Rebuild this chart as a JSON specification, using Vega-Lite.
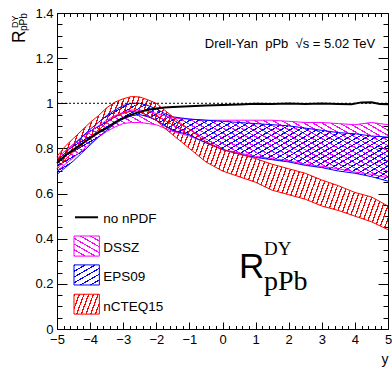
{
  "$schema": "https://vega.github.io/schema/vega-lite/v6.json",
  "width": 331,
  "height": 316,
  "autosize": {"type": "none"},
  "padding": {"left": 57, "top": 13, "right": 4, "bottom": 40},
  "background": "white",
  "data": {"values": [{}]},
  "config": {
    "view": {"stroke": "black", "strokeWidth": 1},
    "font": "Liberation Sans",
    "axis": {"grid": false, "domain": false, "tickColor": "black", "labelColor": "black", "labelFont": "Liberation Sans", "labelFontSize": 13, "zindex": 1, "labelOverlap": false, "labelFlush": false, "tickWidth": 1, "titleFont": "Liberation Sans", "titleFontWeight": "normal", "titleColor": "black", "format": "~g"}
  },
  "datasets": {
    "bands": [
      {"model": "DSSZ", "x": -5, "lo": 0.70, "hi": 0.755},
      {"model": "DSSZ", "x": -4.75, "lo": 0.73, "hi": 0.79},
      {"model": "DSSZ", "x": -4.5, "lo": 0.76, "hi": 0.82},
      {"model": "DSSZ", "x": -4.25, "lo": 0.79, "hi": 0.85},
      {"model": "DSSZ", "x": -4, "lo": 0.82, "hi": 0.875},
      {"model": "DSSZ", "x": -3.75, "lo": 0.85, "hi": 0.9},
      {"model": "DSSZ", "x": -3.5, "lo": 0.875, "hi": 0.925},
      {"model": "DSSZ", "x": -3.25, "lo": 0.895, "hi": 0.945},
      {"model": "DSSZ", "x": -3, "lo": 0.91, "hi": 0.96},
      {"model": "DSSZ", "x": -2.75, "lo": 0.915, "hi": 0.97},
      {"model": "DSSZ", "x": -2.5, "lo": 0.915, "hi": 0.97},
      {"model": "DSSZ", "x": -2.25, "lo": 0.91, "hi": 0.965},
      {"model": "DSSZ", "x": -2, "lo": 0.905, "hi": 0.955},
      {"model": "DSSZ", "x": -1.75, "lo": 0.89, "hi": 0.945},
      {"model": "DSSZ", "x": -1.5, "lo": 0.875, "hi": 0.935},
      {"model": "DSSZ", "x": -1.25, "lo": 0.865, "hi": 0.932},
      {"model": "DSSZ", "x": -1, "lo": 0.855, "hi": 0.93},
      {"model": "DSSZ", "x": -0.5, "lo": 0.825, "hi": 0.925},
      {"model": "DSSZ", "x": 0, "lo": 0.795, "hi": 0.925},
      {"model": "DSSZ", "x": 0.5, "lo": 0.78, "hi": 0.925},
      {"model": "DSSZ", "x": 1, "lo": 0.765, "hi": 0.925},
      {"model": "DSSZ", "x": 1.5, "lo": 0.755, "hi": 0.925},
      {"model": "DSSZ", "x": 2, "lo": 0.745, "hi": 0.92},
      {"model": "DSSZ", "x": 2.5, "lo": 0.73, "hi": 0.915},
      {"model": "DSSZ", "x": 3, "lo": 0.72, "hi": 0.915},
      {"model": "DSSZ", "x": 3.5, "lo": 0.71, "hi": 0.91},
      {"model": "DSSZ", "x": 4, "lo": 0.695, "hi": 0.905},
      {"model": "DSSZ", "x": 4.5, "lo": 0.685, "hi": 0.915},
      {"model": "DSSZ", "x": 5, "lo": 0.67, "hi": 0.905},
      {"model": "EPS09", "x": -5, "lo": 0.685, "hi": 0.745},
      {"model": "EPS09", "x": -4.75, "lo": 0.715, "hi": 0.78},
      {"model": "EPS09", "x": -4.5, "lo": 0.745, "hi": 0.815},
      {"model": "EPS09", "x": -4.25, "lo": 0.78, "hi": 0.85},
      {"model": "EPS09", "x": -4, "lo": 0.815, "hi": 0.885},
      {"model": "EPS09", "x": -3.75, "lo": 0.85, "hi": 0.915},
      {"model": "EPS09", "x": -3.5, "lo": 0.88, "hi": 0.945},
      {"model": "EPS09", "x": -3.25, "lo": 0.91, "hi": 0.97},
      {"model": "EPS09", "x": -3, "lo": 0.93, "hi": 0.99},
      {"model": "EPS09", "x": -2.75, "lo": 0.945, "hi": 1.0},
      {"model": "EPS09", "x": -2.5, "lo": 0.95, "hi": 1.0},
      {"model": "EPS09", "x": -2.25, "lo": 0.94, "hi": 0.99},
      {"model": "EPS09", "x": -2, "lo": 0.925, "hi": 0.975},
      {"model": "EPS09", "x": -1.75, "lo": 0.9, "hi": 0.955},
      {"model": "EPS09", "x": -1.5, "lo": 0.88, "hi": 0.94},
      {"model": "EPS09", "x": -1.25, "lo": 0.87, "hi": 0.935},
      {"model": "EPS09", "x": -1, "lo": 0.86, "hi": 0.93},
      {"model": "EPS09", "x": -0.5, "lo": 0.825, "hi": 0.925},
      {"model": "EPS09", "x": 0, "lo": 0.795, "hi": 0.92},
      {"model": "EPS09", "x": 0.5, "lo": 0.775, "hi": 0.915},
      {"model": "EPS09", "x": 1, "lo": 0.76, "hi": 0.91},
      {"model": "EPS09", "x": 1.5, "lo": 0.75, "hi": 0.905},
      {"model": "EPS09", "x": 2, "lo": 0.74, "hi": 0.9},
      {"model": "EPS09", "x": 2.5, "lo": 0.725, "hi": 0.89},
      {"model": "EPS09", "x": 3, "lo": 0.715, "hi": 0.88},
      {"model": "EPS09", "x": 3.5, "lo": 0.7, "hi": 0.87},
      {"model": "EPS09", "x": 4, "lo": 0.69, "hi": 0.865},
      {"model": "EPS09", "x": 4.5, "lo": 0.675, "hi": 0.855},
      {"model": "EPS09", "x": 5, "lo": 0.655, "hi": 0.85},
      {"model": "nCTEQ15", "x": -5, "lo": 0.71, "hi": 0.765},
      {"model": "nCTEQ15", "x": -4.75, "lo": 0.75, "hi": 0.81},
      {"model": "nCTEQ15", "x": -4.5, "lo": 0.785, "hi": 0.845},
      {"model": "nCTEQ15", "x": -4.25, "lo": 0.815, "hi": 0.88},
      {"model": "nCTEQ15", "x": -4, "lo": 0.85, "hi": 0.915},
      {"model": "nCTEQ15", "x": -3.75, "lo": 0.88, "hi": 0.945},
      {"model": "nCTEQ15", "x": -3.5, "lo": 0.915, "hi": 0.98},
      {"model": "nCTEQ15", "x": -3.25, "lo": 0.94, "hi": 1.005},
      {"model": "nCTEQ15", "x": -3, "lo": 0.955, "hi": 1.02},
      {"model": "nCTEQ15", "x": -2.75, "lo": 0.965, "hi": 1.03},
      {"model": "nCTEQ15", "x": -2.5, "lo": 0.96, "hi": 1.028},
      {"model": "nCTEQ15", "x": -2.25, "lo": 0.945, "hi": 1.015},
      {"model": "nCTEQ15", "x": -2, "lo": 0.925, "hi": 1.0},
      {"model": "nCTEQ15", "x": -1.75, "lo": 0.89, "hi": 0.97},
      {"model": "nCTEQ15", "x": -1.5, "lo": 0.86, "hi": 0.94},
      {"model": "nCTEQ15", "x": -1.25, "lo": 0.83, "hi": 0.91},
      {"model": "nCTEQ15", "x": -1, "lo": 0.8, "hi": 0.885},
      {"model": "nCTEQ15", "x": -0.5, "lo": 0.74, "hi": 0.83},
      {"model": "nCTEQ15", "x": 0, "lo": 0.7, "hi": 0.795},
      {"model": "nCTEQ15", "x": 0.5, "lo": 0.675, "hi": 0.775},
      {"model": "nCTEQ15", "x": 1, "lo": 0.65, "hi": 0.755},
      {"model": "nCTEQ15", "x": 1.5, "lo": 0.615, "hi": 0.73},
      {"model": "nCTEQ15", "x": 2, "lo": 0.595, "hi": 0.71},
      {"model": "nCTEQ15", "x": 2.5, "lo": 0.575, "hi": 0.69},
      {"model": "nCTEQ15", "x": 3, "lo": 0.545, "hi": 0.66},
      {"model": "nCTEQ15", "x": 3.5, "lo": 0.525, "hi": 0.635},
      {"model": "nCTEQ15", "x": 4, "lo": 0.5, "hi": 0.605},
      {"model": "nCTEQ15", "x": 4.5, "lo": 0.475, "hi": 0.585},
      {"model": "nCTEQ15", "x": 5, "lo": 0.44, "hi": 0.545}
    ],
    "nopdf": [
      {"x": -5, "r": 0.735}, {"x": -4.75, "r": 0.77}, {"x": -4.5, "r": 0.795}, {"x": -4.25, "r": 0.82},
      {"x": -4, "r": 0.845}, {"x": -3.75, "r": 0.87}, {"x": -3.5, "r": 0.89}, {"x": -3.25, "r": 0.915},
      {"x": -3, "r": 0.935}, {"x": -2.75, "r": 0.95}, {"x": -2.5, "r": 0.962}, {"x": -2.25, "r": 0.971},
      {"x": -2, "r": 0.977}, {"x": -1.75, "r": 0.981}, {"x": -1.5, "r": 0.984}, {"x": -1, "r": 0.987},
      {"x": -0.5, "r": 0.99}, {"x": 0, "r": 0.992}, {"x": 0.5, "r": 0.995}, {"x": 1, "r": 0.998},
      {"x": 1.5, "r": 0.997}, {"x": 2, "r": 0.999}, {"x": 2.5, "r": 0.997}, {"x": 3, "r": 0.999},
      {"x": 3.5, "r": 0.997}, {"x": 3.9, "r": 0.996}, {"x": 4.2, "r": 1.004}, {"x": 4.5, "r": 1.005},
      {"x": 4.75, "r": 0.997}, {"x": 5, "r": 0.996}
    ]
  },
  "resolve": {"axis": {"x": "independent", "y": "independent"}},
  "layer": [
    {
      "data": {"name": "bands"},
      "transform": [{"filter": "datum.model === 'DSSZ'"}],
      "mark": {"type": "area", "fill": {"gradient": "linear", "x1": 0, "y1": 1, "x2": 1.203, "y2": 0.574, "stops": [
        {"offset": 0, "color": "#ff00ff"}, {"offset": 0.005, "color": "#ff00ff"}, {"offset": 0.005, "color": "rgba(255,0,255,0)"}, {"offset": 0.02, "color": "rgba(255,0,255,0)"},
        {"offset": 0.02, "color": "#ff00ff"}, {"offset": 0.025, "color": "#ff00ff"}, {"offset": 0.025, "color": "rgba(255,0,255,0)"}, {"offset": 0.04, "color": "rgba(255,0,255,0)"},
        {"offset": 0.04, "color": "#ff00ff"}, {"offset": 0.045, "color": "#ff00ff"}, {"offset": 0.045, "color": "rgba(255,0,255,0)"}, {"offset": 0.06, "color": "rgba(255,0,255,0)"},
        {"offset": 0.06, "color": "#ff00ff"}, {"offset": 0.065, "color": "#ff00ff"}, {"offset": 0.065, "color": "rgba(255,0,255,0)"}, {"offset": 0.08, "color": "rgba(255,0,255,0)"},
        {"offset": 0.08, "color": "#ff00ff"}, {"offset": 0.085, "color": "#ff00ff"}, {"offset": 0.085, "color": "rgba(255,0,255,0)"}, {"offset": 0.10, "color": "rgba(255,0,255,0)"},
        {"offset": 0.10, "color": "#ff00ff"}, {"offset": 0.105, "color": "#ff00ff"}, {"offset": 0.105, "color": "rgba(255,0,255,0)"}, {"offset": 0.12, "color": "rgba(255,0,255,0)"},
        {"offset": 0.12, "color": "#ff00ff"}, {"offset": 0.125, "color": "#ff00ff"}, {"offset": 0.125, "color": "rgba(255,0,255,0)"}, {"offset": 0.14, "color": "rgba(255,0,255,0)"},
        {"offset": 0.14, "color": "#ff00ff"}, {"offset": 0.145, "color": "#ff00ff"}, {"offset": 0.145, "color": "rgba(255,0,255,0)"}, {"offset": 0.16, "color": "rgba(255,0,255,0)"},
        {"offset": 0.16, "color": "#ff00ff"}, {"offset": 0.165, "color": "#ff00ff"}, {"offset": 0.165, "color": "rgba(255,0,255,0)"}, {"offset": 0.18, "color": "rgba(255,0,255,0)"},
        {"offset": 0.18, "color": "#ff00ff"}, {"offset": 0.185, "color": "#ff00ff"}, {"offset": 0.185, "color": "rgba(255,0,255,0)"}, {"offset": 0.20, "color": "rgba(255,0,255,0)"},
        {"offset": 0.20, "color": "#ff00ff"}, {"offset": 0.205, "color": "#ff00ff"}, {"offset": 0.205, "color": "rgba(255,0,255,0)"}, {"offset": 0.22, "color": "rgba(255,0,255,0)"},
        {"offset": 0.22, "color": "#ff00ff"}, {"offset": 0.225, "color": "#ff00ff"}, {"offset": 0.225, "color": "rgba(255,0,255,0)"}, {"offset": 0.24, "color": "rgba(255,0,255,0)"},
        {"offset": 0.24, "color": "#ff00ff"}, {"offset": 0.245, "color": "#ff00ff"}, {"offset": 0.245, "color": "rgba(255,0,255,0)"}, {"offset": 0.26, "color": "rgba(255,0,255,0)"},
        {"offset": 0.26, "color": "#ff00ff"}, {"offset": 0.265, "color": "#ff00ff"}, {"offset": 0.265, "color": "rgba(255,0,255,0)"}, {"offset": 0.28, "color": "rgba(255,0,255,0)"},
        {"offset": 0.28, "color": "#ff00ff"}, {"offset": 0.285, "color": "#ff00ff"}, {"offset": 0.285, "color": "rgba(255,0,255,0)"}, {"offset": 0.30, "color": "rgba(255,0,255,0)"},
        {"offset": 0.30, "color": "#ff00ff"}, {"offset": 0.305, "color": "#ff00ff"}, {"offset": 0.305, "color": "rgba(255,0,255,0)"}, {"offset": 0.32, "color": "rgba(255,0,255,0)"},
        {"offset": 0.32, "color": "#ff00ff"}, {"offset": 0.325, "color": "#ff00ff"}, {"offset": 0.325, "color": "rgba(255,0,255,0)"}, {"offset": 0.34, "color": "rgba(255,0,255,0)"},
        {"offset": 0.34, "color": "#ff00ff"}, {"offset": 0.345, "color": "#ff00ff"}, {"offset": 0.345, "color": "rgba(255,0,255,0)"}, {"offset": 0.36, "color": "rgba(255,0,255,0)"},
        {"offset": 0.36, "color": "#ff00ff"}, {"offset": 0.365, "color": "#ff00ff"}, {"offset": 0.365, "color": "rgba(255,0,255,0)"}, {"offset": 0.38, "color": "rgba(255,0,255,0)"},
        {"offset": 0.38, "color": "#ff00ff"}, {"offset": 0.385, "color": "#ff00ff"}, {"offset": 0.385, "color": "rgba(255,0,255,0)"}, {"offset": 0.40, "color": "rgba(255,0,255,0)"},
        {"offset": 0.40, "color": "#ff00ff"}, {"offset": 0.405, "color": "#ff00ff"}, {"offset": 0.405, "color": "rgba(255,0,255,0)"}, {"offset": 0.42, "color": "rgba(255,0,255,0)"},
        {"offset": 0.42, "color": "#ff00ff"}, {"offset": 0.425, "color": "#ff00ff"}, {"offset": 0.425, "color": "rgba(255,0,255,0)"}, {"offset": 0.44, "color": "rgba(255,0,255,0)"},
        {"offset": 0.44, "color": "#ff00ff"}, {"offset": 0.445, "color": "#ff00ff"}, {"offset": 0.445, "color": "rgba(255,0,255,0)"}, {"offset": 0.46, "color": "rgba(255,0,255,0)"},
        {"offset": 0.46, "color": "#ff00ff"}, {"offset": 0.465, "color": "#ff00ff"}, {"offset": 0.465, "color": "rgba(255,0,255,0)"}, {"offset": 0.48, "color": "rgba(255,0,255,0)"},
        {"offset": 0.48, "color": "#ff00ff"}, {"offset": 0.485, "color": "#ff00ff"}, {"offset": 0.485, "color": "rgba(255,0,255,0)"}, {"offset": 0.50, "color": "rgba(255,0,255,0)"},
        {"offset": 0.50, "color": "#ff00ff"}, {"offset": 0.505, "color": "#ff00ff"}, {"offset": 0.505, "color": "rgba(255,0,255,0)"}, {"offset": 0.52, "color": "rgba(255,0,255,0)"},
        {"offset": 0.52, "color": "#ff00ff"}, {"offset": 0.525, "color": "#ff00ff"}, {"offset": 0.525, "color": "rgba(255,0,255,0)"}, {"offset": 0.54, "color": "rgba(255,0,255,0)"},
        {"offset": 0.54, "color": "#ff00ff"}, {"offset": 0.545, "color": "#ff00ff"}, {"offset": 0.545, "color": "rgba(255,0,255,0)"}, {"offset": 0.56, "color": "rgba(255,0,255,0)"},
        {"offset": 0.56, "color": "#ff00ff"}, {"offset": 0.565, "color": "#ff00ff"}, {"offset": 0.565, "color": "rgba(255,0,255,0)"}, {"offset": 0.58, "color": "rgba(255,0,255,0)"},
        {"offset": 0.58, "color": "#ff00ff"}, {"offset": 0.585, "color": "#ff00ff"}, {"offset": 0.585, "color": "rgba(255,0,255,0)"}, {"offset": 0.60, "color": "rgba(255,0,255,0)"},
        {"offset": 0.60, "color": "#ff00ff"}, {"offset": 0.605, "color": "#ff00ff"}, {"offset": 0.605, "color": "rgba(255,0,255,0)"}, {"offset": 0.62, "color": "rgba(255,0,255,0)"},
        {"offset": 0.62, "color": "#ff00ff"}, {"offset": 0.625, "color": "#ff00ff"}, {"offset": 0.625, "color": "rgba(255,0,255,0)"}, {"offset": 0.64, "color": "rgba(255,0,255,0)"},
        {"offset": 0.64, "color": "#ff00ff"}, {"offset": 0.645, "color": "#ff00ff"}, {"offset": 0.645, "color": "rgba(255,0,255,0)"}, {"offset": 0.66, "color": "rgba(255,0,255,0)"},
        {"offset": 0.66, "color": "#ff00ff"}, {"offset": 0.665, "color": "#ff00ff"}, {"offset": 0.665, "color": "rgba(255,0,255,0)"}, {"offset": 0.68, "color": "rgba(255,0,255,0)"},
        {"offset": 0.68, "color": "#ff00ff"}, {"offset": 0.685, "color": "#ff00ff"}, {"offset": 0.685, "color": "rgba(255,0,255,0)"}, {"offset": 0.70, "color": "rgba(255,0,255,0)"},
        {"offset": 0.70, "color": "#ff00ff"}, {"offset": 0.705, "color": "#ff00ff"}, {"offset": 0.705, "color": "rgba(255,0,255,0)"}, {"offset": 0.72, "color": "rgba(255,0,255,0)"},
        {"offset": 0.72, "color": "#ff00ff"}, {"offset": 0.725, "color": "#ff00ff"}, {"offset": 0.725, "color": "rgba(255,0,255,0)"}, {"offset": 0.74, "color": "rgba(255,0,255,0)"},
        {"offset": 0.74, "color": "#ff00ff"}, {"offset": 0.745, "color": "#ff00ff"}, {"offset": 0.745, "color": "rgba(255,0,255,0)"}, {"offset": 0.76, "color": "rgba(255,0,255,0)"},
        {"offset": 0.76, "color": "#ff00ff"}, {"offset": 0.765, "color": "#ff00ff"}, {"offset": 0.765, "color": "rgba(255,0,255,0)"}, {"offset": 0.78, "color": "rgba(255,0,255,0)"},
        {"offset": 0.78, "color": "#ff00ff"}, {"offset": 0.785, "color": "#ff00ff"}, {"offset": 0.785, "color": "rgba(255,0,255,0)"}, {"offset": 0.80, "color": "rgba(255,0,255,0)"},
        {"offset": 0.80, "color": "#ff00ff"}, {"offset": 0.805, "color": "#ff00ff"}, {"offset": 0.805, "color": "rgba(255,0,255,0)"}, {"offset": 0.82, "color": "rgba(255,0,255,0)"},
        {"offset": 0.82, "color": "#ff00ff"}, {"offset": 0.825, "color": "#ff00ff"}, {"offset": 0.825, "color": "rgba(255,0,255,0)"}, {"offset": 0.84, "color": "rgba(255,0,255,0)"},
        {"offset": 0.84, "color": "#ff00ff"}, {"offset": 0.845, "color": "#ff00ff"}, {"offset": 0.845, "color": "rgba(255,0,255,0)"}, {"offset": 0.86, "color": "rgba(255,0,255,0)"},
        {"offset": 0.86, "color": "#ff00ff"}, {"offset": 0.865, "color": "#ff00ff"}, {"offset": 0.865, "color": "rgba(255,0,255,0)"}, {"offset": 0.88, "color": "rgba(255,0,255,0)"},
        {"offset": 0.88, "color": "#ff00ff"}, {"offset": 0.885, "color": "#ff00ff"}, {"offset": 0.885, "color": "rgba(255,0,255,0)"}, {"offset": 0.90, "color": "rgba(255,0,255,0)"},
        {"offset": 0.90, "color": "#ff00ff"}, {"offset": 0.905, "color": "#ff00ff"}, {"offset": 0.905, "color": "rgba(255,0,255,0)"}, {"offset": 0.92, "color": "rgba(255,0,255,0)"},
        {"offset": 0.92, "color": "#ff00ff"}, {"offset": 0.925, "color": "#ff00ff"}, {"offset": 0.925, "color": "rgba(255,0,255,0)"}, {"offset": 0.94, "color": "rgba(255,0,255,0)"},
        {"offset": 0.94, "color": "#ff00ff"}, {"offset": 0.945, "color": "#ff00ff"}, {"offset": 0.945, "color": "rgba(255,0,255,0)"}, {"offset": 0.96, "color": "rgba(255,0,255,0)"},
        {"offset": 0.96, "color": "#ff00ff"}, {"offset": 0.965, "color": "#ff00ff"}, {"offset": 0.965, "color": "rgba(255,0,255,0)"}, {"offset": 0.98, "color": "rgba(255,0,255,0)"},
        {"offset": 0.98, "color": "#ff00ff"}, {"offset": 0.985, "color": "#ff00ff"}, {"offset": 0.985, "color": "rgba(255,0,255,0)"}, {"offset": 1, "color": "rgba(255,0,255,0)"}
      ]}},
      "encoding": {
        "x": {"field": "x", "type": "quantitative", "scale": {"domain": [-5, 5], "nice": false, "zero": false},
          "axis": {"orient": "bottom", "title": "y", "titleFontSize": 14, "titleX": 331, "titleY": 41, "titleAlign": "right", "titleBaseline": "alphabetic", "titleAnchor": null,
            "values": [-5,-4,-3,-2,-1,0,1,2,3,4,5], "tickSize": 7, "offset": -7, "labelPadding": 4}},
        "y": {"field": "lo", "type": "quantitative", "scale": {"domain": [0, 1.4], "nice": false, "zero": false},
          "axis": {"orient": "left", "title": null,
            "values": [0,0.2,0.4,0.6,0.8,1,1.2,1.4], "tickSize": 10, "offset": -10, "labelPadding": 4}},
        "y2": {"field": "hi"}
      }
    },
    {
      "data": {"name": "bands"},
      "transform": [{"filter": "datum.model === 'EPS09'"}],
      "mark": {"type": "area", "fill": {"gradient": "linear", "x1": 0, "y1": 0, "x2": 1.207, "y2": 0.492, "stops": [
        {"offset": 0, "color": "#0000ff"}, {"offset": 0.0047, "color": "#0000ff"}, {"offset": 0.0047, "color": "rgba(0,0,255,0)"}, {"offset": 0.0192, "color": "rgba(0,0,255,0)"},
        {"offset": 0.0192, "color": "#0000ff"}, {"offset": 0.0239, "color": "#0000ff"}, {"offset": 0.0239, "color": "rgba(0,0,255,0)"}, {"offset": 0.0385, "color": "rgba(0,0,255,0)"},
        {"offset": 0.0385, "color": "#0000ff"}, {"offset": 0.0432, "color": "#0000ff"}, {"offset": 0.0432, "color": "rgba(0,0,255,0)"}, {"offset": 0.0577, "color": "rgba(0,0,255,0)"},
        {"offset": 0.0577, "color": "#0000ff"}, {"offset": 0.0624, "color": "#0000ff"}, {"offset": 0.0624, "color": "rgba(0,0,255,0)"}, {"offset": 0.0769, "color": "rgba(0,0,255,0)"},
        {"offset": 0.0769, "color": "#0000ff"}, {"offset": 0.0816, "color": "#0000ff"}, {"offset": 0.0816, "color": "rgba(0,0,255,0)"}, {"offset": 0.0962, "color": "rgba(0,0,255,0)"},
        {"offset": 0.0962, "color": "#0000ff"}, {"offset": 0.1009, "color": "#0000ff"}, {"offset": 0.1009, "color": "rgba(0,0,255,0)"}, {"offset": 0.1154, "color": "rgba(0,0,255,0)"},
        {"offset": 0.1154, "color": "#0000ff"}, {"offset": 0.1201, "color": "#0000ff"}, {"offset": 0.1201, "color": "rgba(0,0,255,0)"}, {"offset": 0.1346, "color": "rgba(0,0,255,0)"},
        {"offset": 0.1346, "color": "#0000ff"}, {"offset": 0.1393, "color": "#0000ff"}, {"offset": 0.1393, "color": "rgba(0,0,255,0)"}, {"offset": 0.1538, "color": "rgba(0,0,255,0)"},
        {"offset": 0.1538, "color": "#0000ff"}, {"offset": 0.1585, "color": "#0000ff"}, {"offset": 0.1585, "color": "rgba(0,0,255,0)"}, {"offset": 0.1731, "color": "rgba(0,0,255,0)"},
        {"offset": 0.1731, "color": "#0000ff"}, {"offset": 0.1778, "color": "#0000ff"}, {"offset": 0.1778, "color": "rgba(0,0,255,0)"}, {"offset": 0.1923, "color": "rgba(0,0,255,0)"},
        {"offset": 0.1923, "color": "#0000ff"}, {"offset": 0.1970, "color": "#0000ff"}, {"offset": 0.1970, "color": "rgba(0,0,255,0)"}, {"offset": 0.2115, "color": "rgba(0,0,255,0)"},
        {"offset": 0.2115, "color": "#0000ff"}, {"offset": 0.2162, "color": "#0000ff"}, {"offset": 0.2162, "color": "rgba(0,0,255,0)"}, {"offset": 0.2308, "color": "rgba(0,0,255,0)"},
        {"offset": 0.2308, "color": "#0000ff"}, {"offset": 0.2355, "color": "#0000ff"}, {"offset": 0.2355, "color": "rgba(0,0,255,0)"}, {"offset": 0.2500, "color": "rgba(0,0,255,0)"},
        {"offset": 0.2500, "color": "#0000ff"}, {"offset": 0.2547, "color": "#0000ff"}, {"offset": 0.2547, "color": "rgba(0,0,255,0)"}, {"offset": 0.2692, "color": "rgba(0,0,255,0)"},
        {"offset": 0.2692, "color": "#0000ff"}, {"offset": 0.2739, "color": "#0000ff"}, {"offset": 0.2739, "color": "rgba(0,0,255,0)"}, {"offset": 0.2885, "color": "rgba(0,0,255,0)"},
        {"offset": 0.2885, "color": "#0000ff"}, {"offset": 0.2932, "color": "#0000ff"}, {"offset": 0.2932, "color": "rgba(0,0,255,0)"}, {"offset": 0.3077, "color": "rgba(0,0,255,0)"},
        {"offset": 0.3077, "color": "#0000ff"}, {"offset": 0.3124, "color": "#0000ff"}, {"offset": 0.3124, "color": "rgba(0,0,255,0)"}, {"offset": 0.3269, "color": "rgba(0,0,255,0)"},
        {"offset": 0.3269, "color": "#0000ff"}, {"offset": 0.3316, "color": "#0000ff"}, {"offset": 0.3316, "color": "rgba(0,0,255,0)"}, {"offset": 0.3462, "color": "rgba(0,0,255,0)"},
        {"offset": 0.3462, "color": "#0000ff"}, {"offset": 0.3509, "color": "#0000ff"}, {"offset": 0.3509, "color": "rgba(0,0,255,0)"}, {"offset": 0.3654, "color": "rgba(0,0,255,0)"},
        {"offset": 0.3654, "color": "#0000ff"}, {"offset": 0.3701, "color": "#0000ff"}, {"offset": 0.3701, "color": "rgba(0,0,255,0)"}, {"offset": 0.3846, "color": "rgba(0,0,255,0)"},
        {"offset": 0.3846, "color": "#0000ff"}, {"offset": 0.3893, "color": "#0000ff"}, {"offset": 0.3893, "color": "rgba(0,0,255,0)"}, {"offset": 0.4038, "color": "rgba(0,0,255,0)"},
        {"offset": 0.4038, "color": "#0000ff"}, {"offset": 0.4085, "color": "#0000ff"}, {"offset": 0.4085, "color": "rgba(0,0,255,0)"}, {"offset": 0.4231, "color": "rgba(0,0,255,0)"},
        {"offset": 0.4231, "color": "#0000ff"}, {"offset": 0.4278, "color": "#0000ff"}, {"offset": 0.4278, "color": "rgba(0,0,255,0)"}, {"offset": 0.4423, "color": "rgba(0,0,255,0)"},
        {"offset": 0.4423, "color": "#0000ff"}, {"offset": 0.4470, "color": "#0000ff"}, {"offset": 0.4470, "color": "rgba(0,0,255,0)"}, {"offset": 0.4615, "color": "rgba(0,0,255,0)"},
        {"offset": 0.4615, "color": "#0000ff"}, {"offset": 0.4662, "color": "#0000ff"}, {"offset": 0.4662, "color": "rgba(0,0,255,0)"}, {"offset": 0.4808, "color": "rgba(0,0,255,0)"},
        {"offset": 0.4808, "color": "#0000ff"}, {"offset": 0.4855, "color": "#0000ff"}, {"offset": 0.4855, "color": "rgba(0,0,255,0)"}, {"offset": 0.5000, "color": "rgba(0,0,255,0)"},
        {"offset": 0.5000, "color": "#0000ff"}, {"offset": 0.5047, "color": "#0000ff"}, {"offset": 0.5047, "color": "rgba(0,0,255,0)"}, {"offset": 0.5192, "color": "rgba(0,0,255,0)"},
        {"offset": 0.5192, "color": "#0000ff"}, {"offset": 0.5239, "color": "#0000ff"}, {"offset": 0.5239, "color": "rgba(0,0,255,0)"}, {"offset": 0.5385, "color": "rgba(0,0,255,0)"},
        {"offset": 0.5385, "color": "#0000ff"}, {"offset": 0.5432, "color": "#0000ff"}, {"offset": 0.5432, "color": "rgba(0,0,255,0)"}, {"offset": 0.5577, "color": "rgba(0,0,255,0)"},
        {"offset": 0.5577, "color": "#0000ff"}, {"offset": 0.5624, "color": "#0000ff"}, {"offset": 0.5624, "color": "rgba(0,0,255,0)"}, {"offset": 0.5769, "color": "rgba(0,0,255,0)"},
        {"offset": 0.5769, "color": "#0000ff"}, {"offset": 0.5816, "color": "#0000ff"}, {"offset": 0.5816, "color": "rgba(0,0,255,0)"}, {"offset": 0.5962, "color": "rgba(0,0,255,0)"},
        {"offset": 0.5962, "color": "#0000ff"}, {"offset": 0.6009, "color": "#0000ff"}, {"offset": 0.6009, "color": "rgba(0,0,255,0)"}, {"offset": 0.6154, "color": "rgba(0,0,255,0)"},
        {"offset": 0.6154, "color": "#0000ff"}, {"offset": 0.6201, "color": "#0000ff"}, {"offset": 0.6201, "color": "rgba(0,0,255,0)"}, {"offset": 0.6346, "color": "rgba(0,0,255,0)"},
        {"offset": 0.6346, "color": "#0000ff"}, {"offset": 0.6393, "color": "#0000ff"}, {"offset": 0.6393, "color": "rgba(0,0,255,0)"}, {"offset": 0.6538, "color": "rgba(0,0,255,0)"},
        {"offset": 0.6538, "color": "#0000ff"}, {"offset": 0.6585, "color": "#0000ff"}, {"offset": 0.6585, "color": "rgba(0,0,255,0)"}, {"offset": 0.6731, "color": "rgba(0,0,255,0)"},
        {"offset": 0.6731, "color": "#0000ff"}, {"offset": 0.6778, "color": "#0000ff"}, {"offset": 0.6778, "color": "rgba(0,0,255,0)"}, {"offset": 0.6923, "color": "rgba(0,0,255,0)"},
        {"offset": 0.6923, "color": "#0000ff"}, {"offset": 0.6970, "color": "#0000ff"}, {"offset": 0.6970, "color": "rgba(0,0,255,0)"}, {"offset": 0.7115, "color": "rgba(0,0,255,0)"},
        {"offset": 0.7115, "color": "#0000ff"}, {"offset": 0.7162, "color": "#0000ff"}, {"offset": 0.7162, "color": "rgba(0,0,255,0)"}, {"offset": 0.7308, "color": "rgba(0,0,255,0)"},
        {"offset": 0.7308, "color": "#0000ff"}, {"offset": 0.7355, "color": "#0000ff"}, {"offset": 0.7355, "color": "rgba(0,0,255,0)"}, {"offset": 0.7500, "color": "rgba(0,0,255,0)"},
        {"offset": 0.7500, "color": "#0000ff"}, {"offset": 0.7547, "color": "#0000ff"}, {"offset": 0.7547, "color": "rgba(0,0,255,0)"}, {"offset": 0.7692, "color": "rgba(0,0,255,0)"},
        {"offset": 0.7692, "color": "#0000ff"}, {"offset": 0.7739, "color": "#0000ff"}, {"offset": 0.7739, "color": "rgba(0,0,255,0)"}, {"offset": 0.7885, "color": "rgba(0,0,255,0)"},
        {"offset": 0.7885, "color": "#0000ff"}, {"offset": 0.7932, "color": "#0000ff"}, {"offset": 0.7932, "color": "rgba(0,0,255,0)"}, {"offset": 0.8077, "color": "rgba(0,0,255,0)"},
        {"offset": 0.8077, "color": "#0000ff"}, {"offset": 0.8124, "color": "#0000ff"}, {"offset": 0.8124, "color": "rgba(0,0,255,0)"}, {"offset": 0.8269, "color": "rgba(0,0,255,0)"},
        {"offset": 0.8269, "color": "#0000ff"}, {"offset": 0.8316, "color": "#0000ff"}, {"offset": 0.8316, "color": "rgba(0,0,255,0)"}, {"offset": 0.8462, "color": "rgba(0,0,255,0)"},
        {"offset": 0.8462, "color": "#0000ff"}, {"offset": 0.8509, "color": "#0000ff"}, {"offset": 0.8509, "color": "rgba(0,0,255,0)"}, {"offset": 0.8654, "color": "rgba(0,0,255,0)"},
        {"offset": 0.8654, "color": "#0000ff"}, {"offset": 0.8701, "color": "#0000ff"}, {"offset": 0.8701, "color": "rgba(0,0,255,0)"}, {"offset": 0.8846, "color": "rgba(0,0,255,0)"},
        {"offset": 0.8846, "color": "#0000ff"}, {"offset": 0.8893, "color": "#0000ff"}, {"offset": 0.8893, "color": "rgba(0,0,255,0)"}, {"offset": 0.9038, "color": "rgba(0,0,255,0)"},
        {"offset": 0.9038, "color": "#0000ff"}, {"offset": 0.9085, "color": "#0000ff"}, {"offset": 0.9085, "color": "rgba(0,0,255,0)"}, {"offset": 0.9231, "color": "rgba(0,0,255,0)"},
        {"offset": 0.9231, "color": "#0000ff"}, {"offset": 0.9278, "color": "#0000ff"}, {"offset": 0.9278, "color": "rgba(0,0,255,0)"}, {"offset": 0.9423, "color": "rgba(0,0,255,0)"},
        {"offset": 0.9423, "color": "#0000ff"}, {"offset": 0.9470, "color": "#0000ff"}, {"offset": 0.9470, "color": "rgba(0,0,255,0)"}, {"offset": 0.9615, "color": "rgba(0,0,255,0)"},
        {"offset": 0.9615, "color": "#0000ff"}, {"offset": 0.9662, "color": "#0000ff"}, {"offset": 0.9662, "color": "rgba(0,0,255,0)"}, {"offset": 0.9808, "color": "rgba(0,0,255,0)"},
        {"offset": 0.9808, "color": "#0000ff"}, {"offset": 0.9855, "color": "#0000ff"}, {"offset": 0.9855, "color": "rgba(0,0,255,0)"}, {"offset": 1, "color": "rgba(0,0,255,0)"}
      ]}},
      "encoding": {
        "x": {"field": "x", "type": "quantitative", "scale": {"domain": [-5, 5], "nice": false, "zero": false}, "axis": null},
        "y": {"field": "lo", "type": "quantitative", "scale": {"domain": [0, 1.4], "nice": false, "zero": false}, "axis": null},
        "y2": {"field": "hi"}
      }
    },
    {
      "data": {"name": "bands"},
      "transform": [{"filter": "datum.model === 'nCTEQ15'"}],
      "mark": {"type": "area", "fill": {"gradient": "linear", "x1": 0, "y1": 0, "x2": 1.1225, "y2": 0.1642, "stops": [
        {"offset": 0, "color": "#ff0000"}, {"offset": 0.0035, "color": "#ff0000"}, {"offset": 0.0035, "color": "rgba(255,0,0,0)"}, {"offset": 0.0127, "color": "rgba(255,0,0,0)"},
        {"offset": 0.0127, "color": "#ff0000"}, {"offset": 0.0162, "color": "#ff0000"}, {"offset": 0.0162, "color": "rgba(255,0,0,0)"}, {"offset": 0.0253, "color": "rgba(255,0,0,0)"},
        {"offset": 0.0253, "color": "#ff0000"}, {"offset": 0.0288, "color": "#ff0000"}, {"offset": 0.0288, "color": "rgba(255,0,0,0)"}, {"offset": 0.0380, "color": "rgba(255,0,0,0)"},
        {"offset": 0.0380, "color": "#ff0000"}, {"offset": 0.0415, "color": "#ff0000"}, {"offset": 0.0415, "color": "rgba(255,0,0,0)"}, {"offset": 0.0506, "color": "rgba(255,0,0,0)"},
        {"offset": 0.0506, "color": "#ff0000"}, {"offset": 0.0541, "color": "#ff0000"}, {"offset": 0.0541, "color": "rgba(255,0,0,0)"}, {"offset": 0.0633, "color": "rgba(255,0,0,0)"},
        {"offset": 0.0633, "color": "#ff0000"}, {"offset": 0.0668, "color": "#ff0000"}, {"offset": 0.0668, "color": "rgba(255,0,0,0)"}, {"offset": 0.0759, "color": "rgba(255,0,0,0)"},
        {"offset": 0.0759, "color": "#ff0000"}, {"offset": 0.0794, "color": "#ff0000"}, {"offset": 0.0794, "color": "rgba(255,0,0,0)"}, {"offset": 0.0886, "color": "rgba(255,0,0,0)"},
        {"offset": 0.0886, "color": "#ff0000"}, {"offset": 0.0921, "color": "#ff0000"}, {"offset": 0.0921, "color": "rgba(255,0,0,0)"}, {"offset": 0.1013, "color": "rgba(255,0,0,0)"},
        {"offset": 0.1013, "color": "#ff0000"}, {"offset": 0.1048, "color": "#ff0000"}, {"offset": 0.1048, "color": "rgba(255,0,0,0)"}, {"offset": 0.1139, "color": "rgba(255,0,0,0)"},
        {"offset": 0.1139, "color": "#ff0000"}, {"offset": 0.1174, "color": "#ff0000"}, {"offset": 0.1174, "color": "rgba(255,0,0,0)"}, {"offset": 0.1266, "color": "rgba(255,0,0,0)"},
        {"offset": 0.1266, "color": "#ff0000"}, {"offset": 0.1301, "color": "#ff0000"}, {"offset": 0.1301, "color": "rgba(255,0,0,0)"}, {"offset": 0.1392, "color": "rgba(255,0,0,0)"},
        {"offset": 0.1392, "color": "#ff0000"}, {"offset": 0.1427, "color": "#ff0000"}, {"offset": 0.1427, "color": "rgba(255,0,0,0)"}, {"offset": 0.1519, "color": "rgba(255,0,0,0)"},
        {"offset": 0.1519, "color": "#ff0000"}, {"offset": 0.1554, "color": "#ff0000"}, {"offset": 0.1554, "color": "rgba(255,0,0,0)"}, {"offset": 0.1646, "color": "rgba(255,0,0,0)"},
        {"offset": 0.1646, "color": "#ff0000"}, {"offset": 0.1681, "color": "#ff0000"}, {"offset": 0.1681, "color": "rgba(255,0,0,0)"}, {"offset": 0.1772, "color": "rgba(255,0,0,0)"},
        {"offset": 0.1772, "color": "#ff0000"}, {"offset": 0.1807, "color": "#ff0000"}, {"offset": 0.1807, "color": "rgba(255,0,0,0)"}, {"offset": 0.1899, "color": "rgba(255,0,0,0)"},
        {"offset": 0.1899, "color": "#ff0000"}, {"offset": 0.1934, "color": "#ff0000"}, {"offset": 0.1934, "color": "rgba(255,0,0,0)"}, {"offset": 0.2025, "color": "rgba(255,0,0,0)"},
        {"offset": 0.2025, "color": "#ff0000"}, {"offset": 0.2060, "color": "#ff0000"}, {"offset": 0.2060, "color": "rgba(255,0,0,0)"}, {"offset": 0.2152, "color": "rgba(255,0,0,0)"},
        {"offset": 0.2152, "color": "#ff0000"}, {"offset": 0.2187, "color": "#ff0000"}, {"offset": 0.2187, "color": "rgba(255,0,0,0)"}, {"offset": 0.2278, "color": "rgba(255,0,0,0)"},
        {"offset": 0.2278, "color": "#ff0000"}, {"offset": 0.2313, "color": "#ff0000"}, {"offset": 0.2313, "color": "rgba(255,0,0,0)"}, {"offset": 0.2405, "color": "rgba(255,0,0,0)"},
        {"offset": 0.2405, "color": "#ff0000"}, {"offset": 0.2440, "color": "#ff0000"}, {"offset": 0.2440, "color": "rgba(255,0,0,0)"}, {"offset": 0.2532, "color": "rgba(255,0,0,0)"},
        {"offset": 0.2532, "color": "#ff0000"}, {"offset": 0.2567, "color": "#ff0000"}, {"offset": 0.2567, "color": "rgba(255,0,0,0)"}, {"offset": 0.2658, "color": "rgba(255,0,0,0)"},
        {"offset": 0.2658, "color": "#ff0000"}, {"offset": 0.2693, "color": "#ff0000"}, {"offset": 0.2693, "color": "rgba(255,0,0,0)"}, {"offset": 0.2785, "color": "rgba(255,0,0,0)"},
        {"offset": 0.2785, "color": "#ff0000"}, {"offset": 0.2820, "color": "#ff0000"}, {"offset": 0.2820, "color": "rgba(255,0,0,0)"}, {"offset": 0.2911, "color": "rgba(255,0,0,0)"},
        {"offset": 0.2911, "color": "#ff0000"}, {"offset": 0.2946, "color": "#ff0000"}, {"offset": 0.2946, "color": "rgba(255,0,0,0)"}, {"offset": 0.3038, "color": "rgba(255,0,0,0)"},
        {"offset": 0.3038, "color": "#ff0000"}, {"offset": 0.3073, "color": "#ff0000"}, {"offset": 0.3073, "color": "rgba(255,0,0,0)"}, {"offset": 0.3165, "color": "rgba(255,0,0,0)"},
        {"offset": 0.3165, "color": "#ff0000"}, {"offset": 0.3200, "color": "#ff0000"}, {"offset": 0.3200, "color": "rgba(255,0,0,0)"}, {"offset": 0.3291, "color": "rgba(255,0,0,0)"},
        {"offset": 0.3291, "color": "#ff0000"}, {"offset": 0.3326, "color": "#ff0000"}, {"offset": 0.3326, "color": "rgba(255,0,0,0)"}, {"offset": 0.3418, "color": "rgba(255,0,0,0)"},
        {"offset": 0.3418, "color": "#ff0000"}, {"offset": 0.3453, "color": "#ff0000"}, {"offset": 0.3453, "color": "rgba(255,0,0,0)"}, {"offset": 0.3544, "color": "rgba(255,0,0,0)"},
        {"offset": 0.3544, "color": "#ff0000"}, {"offset": 0.3579, "color": "#ff0000"}, {"offset": 0.3579, "color": "rgba(255,0,0,0)"}, {"offset": 0.3671, "color": "rgba(255,0,0,0)"},
        {"offset": 0.3671, "color": "#ff0000"}, {"offset": 0.3706, "color": "#ff0000"}, {"offset": 0.3706, "color": "rgba(255,0,0,0)"}, {"offset": 0.3797, "color": "rgba(255,0,0,0)"},
        {"offset": 0.3797, "color": "#ff0000"}, {"offset": 0.3832, "color": "#ff0000"}, {"offset": 0.3832, "color": "rgba(255,0,0,0)"}, {"offset": 0.3924, "color": "rgba(255,0,0,0)"},
        {"offset": 0.3924, "color": "#ff0000"}, {"offset": 0.3959, "color": "#ff0000"}, {"offset": 0.3959, "color": "rgba(255,0,0,0)"}, {"offset": 0.4051, "color": "rgba(255,0,0,0)"},
        {"offset": 0.4051, "color": "#ff0000"}, {"offset": 0.4086, "color": "#ff0000"}, {"offset": 0.4086, "color": "rgba(255,0,0,0)"}, {"offset": 0.4177, "color": "rgba(255,0,0,0)"},
        {"offset": 0.4177, "color": "#ff0000"}, {"offset": 0.4212, "color": "#ff0000"}, {"offset": 0.4212, "color": "rgba(255,0,0,0)"}, {"offset": 0.4304, "color": "rgba(255,0,0,0)"},
        {"offset": 0.4304, "color": "#ff0000"}, {"offset": 0.4339, "color": "#ff0000"}, {"offset": 0.4339, "color": "rgba(255,0,0,0)"}, {"offset": 0.4430, "color": "rgba(255,0,0,0)"},
        {"offset": 0.4430, "color": "#ff0000"}, {"offset": 0.4465, "color": "#ff0000"}, {"offset": 0.4465, "color": "rgba(255,0,0,0)"}, {"offset": 0.4557, "color": "rgba(255,0,0,0)"},
        {"offset": 0.4557, "color": "#ff0000"}, {"offset": 0.4592, "color": "#ff0000"}, {"offset": 0.4592, "color": "rgba(255,0,0,0)"}, {"offset": 0.4684, "color": "rgba(255,0,0,0)"},
        {"offset": 0.4684, "color": "#ff0000"}, {"offset": 0.4719, "color": "#ff0000"}, {"offset": 0.4719, "color": "rgba(255,0,0,0)"}, {"offset": 0.4810, "color": "rgba(255,0,0,0)"},
        {"offset": 0.4810, "color": "#ff0000"}, {"offset": 0.4845, "color": "#ff0000"}, {"offset": 0.4845, "color": "rgba(255,0,0,0)"}, {"offset": 0.4937, "color": "rgba(255,0,0,0)"},
        {"offset": 0.4937, "color": "#ff0000"}, {"offset": 0.4972, "color": "#ff0000"}, {"offset": 0.4972, "color": "rgba(255,0,0,0)"}, {"offset": 0.5063, "color": "rgba(255,0,0,0)"},
        {"offset": 0.5063, "color": "#ff0000"}, {"offset": 0.5098, "color": "#ff0000"}, {"offset": 0.5098, "color": "rgba(255,0,0,0)"}, {"offset": 0.5190, "color": "rgba(255,0,0,0)"},
        {"offset": 0.5190, "color": "#ff0000"}, {"offset": 0.5225, "color": "#ff0000"}, {"offset": 0.5225, "color": "rgba(255,0,0,0)"}, {"offset": 0.5316, "color": "rgba(255,0,0,0)"},
        {"offset": 0.5316, "color": "#ff0000"}, {"offset": 0.5351, "color": "#ff0000"}, {"offset": 0.5351, "color": "rgba(255,0,0,0)"}, {"offset": 0.5443, "color": "rgba(255,0,0,0)"},
        {"offset": 0.5443, "color": "#ff0000"}, {"offset": 0.5478, "color": "#ff0000"}, {"offset": 0.5478, "color": "rgba(255,0,0,0)"}, {"offset": 0.5570, "color": "rgba(255,0,0,0)"},
        {"offset": 0.5570, "color": "#ff0000"}, {"offset": 0.5605, "color": "#ff0000"}, {"offset": 0.5605, "color": "rgba(255,0,0,0)"}, {"offset": 0.5696, "color": "rgba(255,0,0,0)"},
        {"offset": 0.5696, "color": "#ff0000"}, {"offset": 0.5731, "color": "#ff0000"}, {"offset": 0.5731, "color": "rgba(255,0,0,0)"}, {"offset": 0.5823, "color": "rgba(255,0,0,0)"},
        {"offset": 0.5823, "color": "#ff0000"}, {"offset": 0.5858, "color": "#ff0000"}, {"offset": 0.5858, "color": "rgba(255,0,0,0)"}, {"offset": 0.5949, "color": "rgba(255,0,0,0)"},
        {"offset": 0.5949, "color": "#ff0000"}, {"offset": 0.5984, "color": "#ff0000"}, {"offset": 0.5984, "color": "rgba(255,0,0,0)"}, {"offset": 0.6076, "color": "rgba(255,0,0,0)"},
        {"offset": 0.6076, "color": "#ff0000"}, {"offset": 0.6111, "color": "#ff0000"}, {"offset": 0.6111, "color": "rgba(255,0,0,0)"}, {"offset": 0.6203, "color": "rgba(255,0,0,0)"},
        {"offset": 0.6203, "color": "#ff0000"}, {"offset": 0.6238, "color": "#ff0000"}, {"offset": 0.6238, "color": "rgba(255,0,0,0)"}, {"offset": 0.6329, "color": "rgba(255,0,0,0)"},
        {"offset": 0.6329, "color": "#ff0000"}, {"offset": 0.6364, "color": "#ff0000"}, {"offset": 0.6364, "color": "rgba(255,0,0,0)"}, {"offset": 0.6456, "color": "rgba(255,0,0,0)"},
        {"offset": 0.6456, "color": "#ff0000"}, {"offset": 0.6491, "color": "#ff0000"}, {"offset": 0.6491, "color": "rgba(255,0,0,0)"}, {"offset": 0.6582, "color": "rgba(255,0,0,0)"},
        {"offset": 0.6582, "color": "#ff0000"}, {"offset": 0.6617, "color": "#ff0000"}, {"offset": 0.6617, "color": "rgba(255,0,0,0)"}, {"offset": 0.6709, "color": "rgba(255,0,0,0)"},
        {"offset": 0.6709, "color": "#ff0000"}, {"offset": 0.6744, "color": "#ff0000"}, {"offset": 0.6744, "color": "rgba(255,0,0,0)"}, {"offset": 0.6835, "color": "rgba(255,0,0,0)"},
        {"offset": 0.6835, "color": "#ff0000"}, {"offset": 0.6870, "color": "#ff0000"}, {"offset": 0.6870, "color": "rgba(255,0,0,0)"}, {"offset": 0.6962, "color": "rgba(255,0,0,0)"},
        {"offset": 0.6962, "color": "#ff0000"}, {"offset": 0.6997, "color": "#ff0000"}, {"offset": 0.6997, "color": "rgba(255,0,0,0)"}, {"offset": 0.7089, "color": "rgba(255,0,0,0)"},
        {"offset": 0.7089, "color": "#ff0000"}, {"offset": 0.7124, "color": "#ff0000"}, {"offset": 0.7124, "color": "rgba(255,0,0,0)"}, {"offset": 0.7215, "color": "rgba(255,0,0,0)"},
        {"offset": 0.7215, "color": "#ff0000"}, {"offset": 0.7250, "color": "#ff0000"}, {"offset": 0.7250, "color": "rgba(255,0,0,0)"}, {"offset": 0.7342, "color": "rgba(255,0,0,0)"},
        {"offset": 0.7342, "color": "#ff0000"}, {"offset": 0.7377, "color": "#ff0000"}, {"offset": 0.7377, "color": "rgba(255,0,0,0)"}, {"offset": 0.7468, "color": "rgba(255,0,0,0)"},
        {"offset": 0.7468, "color": "#ff0000"}, {"offset": 0.7503, "color": "#ff0000"}, {"offset": 0.7503, "color": "rgba(255,0,0,0)"}, {"offset": 0.7595, "color": "rgba(255,0,0,0)"},
        {"offset": 0.7595, "color": "#ff0000"}, {"offset": 0.7630, "color": "#ff0000"}, {"offset": 0.7630, "color": "rgba(255,0,0,0)"}, {"offset": 0.7722, "color": "rgba(255,0,0,0)"},
        {"offset": 0.7722, "color": "#ff0000"}, {"offset": 0.7757, "color": "#ff0000"}, {"offset": 0.7757, "color": "rgba(255,0,0,0)"}, {"offset": 0.7848, "color": "rgba(255,0,0,0)"},
        {"offset": 0.7848, "color": "#ff0000"}, {"offset": 0.7883, "color": "#ff0000"}, {"offset": 0.7883, "color": "rgba(255,0,0,0)"}, {"offset": 0.7975, "color": "rgba(255,0,0,0)"},
        {"offset": 0.7975, "color": "#ff0000"}, {"offset": 0.8010, "color": "#ff0000"}, {"offset": 0.8010, "color": "rgba(255,0,0,0)"}, {"offset": 0.8101, "color": "rgba(255,0,0,0)"},
        {"offset": 0.8101, "color": "#ff0000"}, {"offset": 0.8136, "color": "#ff0000"}, {"offset": 0.8136, "color": "rgba(255,0,0,0)"}, {"offset": 0.8228, "color": "rgba(255,0,0,0)"},
        {"offset": 0.8228, "color": "#ff0000"}, {"offset": 0.8263, "color": "#ff0000"}, {"offset": 0.8263, "color": "rgba(255,0,0,0)"}, {"offset": 0.8354, "color": "rgba(255,0,0,0)"},
        {"offset": 0.8354, "color": "#ff0000"}, {"offset": 0.8389, "color": "#ff0000"}, {"offset": 0.8389, "color": "rgba(255,0,0,0)"}, {"offset": 0.8481, "color": "rgba(255,0,0,0)"},
        {"offset": 0.8481, "color": "#ff0000"}, {"offset": 0.8516, "color": "#ff0000"}, {"offset": 0.8516, "color": "rgba(255,0,0,0)"}, {"offset": 0.8608, "color": "rgba(255,0,0,0)"},
        {"offset": 0.8608, "color": "#ff0000"}, {"offset": 0.8643, "color": "#ff0000"}, {"offset": 0.8643, "color": "rgba(255,0,0,0)"}, {"offset": 0.8734, "color": "rgba(255,0,0,0)"},
        {"offset": 0.8734, "color": "#ff0000"}, {"offset": 0.8769, "color": "#ff0000"}, {"offset": 0.8769, "color": "rgba(255,0,0,0)"}, {"offset": 0.8861, "color": "rgba(255,0,0,0)"},
        {"offset": 0.8861, "color": "#ff0000"}, {"offset": 0.8896, "color": "#ff0000"}, {"offset": 0.8896, "color": "rgba(255,0,0,0)"}, {"offset": 0.8987, "color": "rgba(255,0,0,0)"},
        {"offset": 0.8987, "color": "#ff0000"}, {"offset": 0.9022, "color": "#ff0000"}, {"offset": 0.9022, "color": "rgba(255,0,0,0)"}, {"offset": 0.9114, "color": "rgba(255,0,0,0)"},
        {"offset": 0.9114, "color": "#ff0000"}, {"offset": 0.9149, "color": "#ff0000"}, {"offset": 0.9149, "color": "rgba(255,0,0,0)"}, {"offset": 0.9241, "color": "rgba(255,0,0,0)"},
        {"offset": 0.9241, "color": "#ff0000"}, {"offset": 0.9276, "color": "#ff0000"}, {"offset": 0.9276, "color": "rgba(255,0,0,0)"}, {"offset": 0.9367, "color": "rgba(255,0,0,0)"},
        {"offset": 0.9367, "color": "#ff0000"}, {"offset": 0.9402, "color": "#ff0000"}, {"offset": 0.9402, "color": "rgba(255,0,0,0)"}, {"offset": 0.9494, "color": "rgba(255,0,0,0)"},
        {"offset": 0.9494, "color": "#ff0000"}, {"offset": 0.9529, "color": "#ff0000"}, {"offset": 0.9529, "color": "rgba(255,0,0,0)"}, {"offset": 0.9620, "color": "rgba(255,0,0,0)"},
        {"offset": 0.9620, "color": "#ff0000"}, {"offset": 0.9655, "color": "#ff0000"}, {"offset": 0.9655, "color": "rgba(255,0,0,0)"}, {"offset": 0.9747, "color": "rgba(255,0,0,0)"},
        {"offset": 0.9747, "color": "#ff0000"}, {"offset": 0.9782, "color": "#ff0000"}, {"offset": 0.9782, "color": "rgba(255,0,0,0)"}, {"offset": 0.9873, "color": "rgba(255,0,0,0)"},
        {"offset": 0.9873, "color": "#ff0000"}, {"offset": 0.9908, "color": "#ff0000"}, {"offset": 0.9908, "color": "rgba(255,0,0,0)"}, {"offset": 1, "color": "rgba(255,0,0,0)"}
      ]}},
      "encoding": {
        "x": {"field": "x", "type": "quantitative", "scale": {"domain": [-5, 5], "nice": false, "zero": false}, "axis": null},
        "y": {"field": "lo", "type": "quantitative", "scale": {"domain": [0, 1.4], "nice": false, "zero": false}, "axis": null},
        "y2": {"field": "hi"}
      }
    },
    {
      "data": {"name": "bands"},
      "mark": {"type": "line", "strokeWidth": 1},
      "encoding": {
        "x": {"field": "x", "type": "quantitative", "scale": {"domain": [-5, 5], "nice": false, "zero": false},
          "axis": {"orient": "bottom", "title": null, "labels": false, "tickSize": 3.5, "offset": -3.5,
            "values": [-4.8,-4.6,-4.4,-4.2,-3.8,-3.6,-3.4,-3.2,-2.8,-2.6,-2.4,-2.2,-1.8,-1.6,-1.4,-1.2,-0.8,-0.6,-0.4,-0.2,0.2,0.4,0.6,0.8,1.2,1.4,1.6,1.8,2.2,2.4,2.6,2.8,3.2,3.4,3.6,3.8,4.2,4.4,4.6,4.8]}},
        "y": {"field": "lo", "type": "quantitative", "scale": {"domain": [0, 1.4], "nice": false, "zero": false},
          "axis": {"orient": "left", "title": null, "labels": false, "tickSize": 5, "offset": -5,
            "values": [0.05,0.1,0.15,0.25,0.3,0.35,0.45,0.5,0.55,0.65,0.7,0.75,0.85,0.9,0.95,1.05,1.1,1.15,1.25,1.3,1.35]}},
        "color": {"field": "model", "type": "nominal", "scale": {"domain": ["DSSZ", "EPS09", "nCTEQ15"], "range": ["#ff00ff", "#0000ff", "#ff0000"]}, "legend": null}
      }
    },
    {
      "data": {"name": "bands"},
      "mark": {"type": "line", "strokeWidth": 1},
      "encoding": {
        "x": {"field": "x", "type": "quantitative", "scale": {"domain": [-5, 5], "nice": false, "zero": false},
          "axis": {"orient": "top", "title": null, "labels": false, "tickSize": 7, "offset": -7, "values": [-5,-4,-3,-2,-1,0,1,2,3,4,5]}},
        "y": {"field": "hi", "type": "quantitative", "scale": {"domain": [0, 1.4], "nice": false, "zero": false},
          "axis": {"orient": "right", "title": null, "labels": false, "tickSize": 10, "offset": -10, "values": [0,0.2,0.4,0.6,0.8,1,1.2,1.4]}},
        "color": {"field": "model", "type": "nominal", "scale": {"domain": ["DSSZ", "EPS09", "nCTEQ15"], "range": ["#ff00ff", "#0000ff", "#ff0000"]}, "legend": null}
      }
    },
    {
      "mark": {"type": "rule", "color": "black", "strokeWidth": 1, "strokeDash": [2, 2]},
      "encoding": {
        "x": {"datum": -5, "type": "quantitative", "scale": {"domain": [-5, 5], "nice": false, "zero": false},
          "axis": {"orient": "top", "title": null, "labels": false, "tickSize": 3.5, "offset": -3.5,
            "values": [-4.8,-4.6,-4.4,-4.2,-3.8,-3.6,-3.4,-3.2,-2.8,-2.6,-2.4,-2.2,-1.8,-1.6,-1.4,-1.2,-0.8,-0.6,-0.4,-0.2,0.2,0.4,0.6,0.8,1.2,1.4,1.6,1.8,2.2,2.4,2.6,2.8,3.2,3.4,3.6,3.8,4.2,4.4,4.6,4.8]}},
        "x2": {"datum": 5},
        "y": {"datum": 1, "type": "quantitative", "scale": {"domain": [0, 1.4], "nice": false, "zero": false},
          "axis": {"orient": "right", "title": null, "labels": false, "tickSize": 5, "offset": -5,
            "values": [0.05,0.1,0.15,0.25,0.3,0.35,0.45,0.5,0.55,0.65,0.7,0.75,0.85,0.9,0.95,1.05,1.1,1.15,1.25,1.3,1.35]}}
      }
    },
    {
      "data": {"name": "nopdf"},
      "mark": {"type": "line", "color": "black", "strokeWidth": 2},
      "encoding": {
        "x": {"field": "x", "type": "quantitative", "scale": {"domain": [-5, 5], "nice": false, "zero": false}, "axis": null},
        "y": {"field": "r", "type": "quantitative", "scale": {"domain": [0, 1.4], "nice": false, "zero": false}, "axis": null}
      }
    },
    {
      "mark": {"type": "text", "text": "Drell-Yan\u00a0 pPb\u00a0 √s = 5.02 TeV", "font": "Liberation Sans", "fontSize": 13, "align": "right", "baseline": "alphabetic", "color": "black"},
      "encoding": {
        "x": {"datum": 4.61, "type": "quantitative", "scale": {"domain": [-5, 5], "nice": false, "zero": false}, "axis": null},
        "y": {"datum": 1.245, "type": "quantitative", "scale": {"domain": [0, 1.4], "nice": false, "zero": false}, "axis": null}
      }
    },
    {
      "mark": {"type": "text", "text": "R", "font": "Liberation Sans", "fontSize": 35, "align": "left", "baseline": "alphabetic", "color": "black"},
      "encoding": {
        "x": {"datum": 0.5, "type": "quantitative", "scale": {"domain": [-5, 5], "nice": false, "zero": false}, "axis": null},
        "y": {"datum": 0.226, "type": "quantitative", "scale": {"domain": [0, 1.4], "nice": false, "zero": false}, "axis": null}
      }
    },
    {
      "mark": {"type": "text", "text": "DY", "font": "Liberation Serif", "fontSize": 19, "align": "left", "baseline": "alphabetic", "color": "black"},
      "encoding": {
        "x": {"datum": 1.254, "type": "quantitative", "scale": {"domain": [-5, 5], "nice": false, "zero": false}, "axis": null},
        "y": {"datum": 0.328, "type": "quantitative", "scale": {"domain": [0, 1.4], "nice": false, "zero": false}, "axis": null}
      }
    },
    {
      "mark": {"type": "text", "text": "pPb", "font": "Liberation Serif", "fontSize": 28, "align": "left", "baseline": "alphabetic", "color": "black"},
      "encoding": {
        "x": {"datum": 1.254, "type": "quantitative", "scale": {"domain": [-5, 5], "nice": false, "zero": false}, "axis": null},
        "y": {"datum": 0.172, "type": "quantitative", "scale": {"domain": [0, 1.4], "nice": false, "zero": false}, "axis": null}
      }
    },
    {
      "mark": {"type": "text", "text": "R", "font": "Liberation Sans", "fontSize": 17.5, "angle": 270, "align": "left", "baseline": "alphabetic", "color": "black"},
      "encoding": {
        "x": {"datum": -5.967, "type": "quantitative", "scale": {"domain": [-5, 5], "nice": false, "zero": false}, "axis": null},
        "y": {"datum": 1.267, "type": "quantitative", "scale": {"domain": [0, 1.4], "nice": false, "zero": false}, "axis": null}
      }
    },
    {
      "mark": {"type": "text", "text": "DY", "font": "Liberation Sans", "fontSize": 9, "angle": 270, "align": "left", "baseline": "alphabetic", "color": "black"},
      "encoding": {
        "x": {"datum": -6.178, "type": "quantitative", "scale": {"domain": [-5, 5], "nice": false, "zero": false}, "axis": null},
        "y": {"datum": 1.334, "type": "quantitative", "scale": {"domain": [0, 1.4], "nice": false, "zero": false}, "axis": null}
      }
    },
    {
      "mark": {"type": "text", "text": "pPb", "font": "Liberation Sans", "fontSize": 10, "angle": 270, "align": "left", "baseline": "alphabetic", "color": "black"},
      "encoding": {
        "x": {"datum": -5.921, "type": "quantitative", "scale": {"domain": [-5, 5], "nice": false, "zero": false}, "axis": null},
        "y": {"datum": 1.32, "type": "quantitative", "scale": {"domain": [0, 1.4], "nice": false, "zero": false}, "axis": null}
      }
    },
    {
      "mark": {"type": "rule", "color": "black", "strokeWidth": 2},
      "encoding": {
        "x": {"datum": -4.456, "type": "quantitative", "scale": {"domain": [-5, 5], "nice": false, "zero": false}, "axis": null},
        "x2": {"datum": -3.761},
        "y": {"datum": 0.495, "type": "quantitative", "scale": {"domain": [0, 1.4], "nice": false, "zero": false}, "axis": null}
      }
    },
    {
      "mark": {"type": "text", "text": "no nPDF", "font": "Liberation Sans", "fontSize": 13.5, "align": "left", "baseline": "alphabetic", "color": "black"},
      "encoding": {
        "x": {"datum": -3.6, "type": "quantitative", "scale": {"domain": [-5, 5], "nice": false, "zero": false}, "axis": null},
        "y": {"datum": 0.47, "type": "quantitative", "scale": {"domain": [0, 1.4], "nice": false, "zero": false}, "axis": null}
      }
    },
    {
      "mark": {"type": "rect", "stroke": "#ff00ff", "strokeWidth": 1, "fill": {"gradient": "linear", "x1": 0, "y1": 1, "x2": 0.817, "y2": -0.132, "stops": [
        {"offset": 0, "color": "#ff00ff"}, {"offset": 0.037, "color": "#ff00ff"}, {"offset": 0.037, "color": "rgba(255,0,255,0)"}, {"offset": 0.1667, "color": "rgba(255,0,255,0)"},
        {"offset": 0.1667, "color": "#ff00ff"}, {"offset": 0.2037, "color": "#ff00ff"}, {"offset": 0.2037, "color": "rgba(255,0,255,0)"}, {"offset": 0.3333, "color": "rgba(255,0,255,0)"},
        {"offset": 0.3333, "color": "#ff00ff"}, {"offset": 0.3703, "color": "#ff00ff"}, {"offset": 0.3703, "color": "rgba(255,0,255,0)"}, {"offset": 0.5, "color": "rgba(255,0,255,0)"},
        {"offset": 0.5, "color": "#ff00ff"}, {"offset": 0.537, "color": "#ff00ff"}, {"offset": 0.537, "color": "rgba(255,0,255,0)"}, {"offset": 0.6667, "color": "rgba(255,0,255,0)"},
        {"offset": 0.6667, "color": "#ff00ff"}, {"offset": 0.7037, "color": "#ff00ff"}, {"offset": 0.7037, "color": "rgba(255,0,255,0)"}, {"offset": 0.8333, "color": "rgba(255,0,255,0)"},
        {"offset": 0.8333, "color": "#ff00ff"}, {"offset": 0.8703, "color": "#ff00ff"}, {"offset": 0.8703, "color": "rgba(255,0,255,0)"}, {"offset": 1, "color": "rgba(255,0,255,0)"}
      ]}},
      "encoding": {
        "x": {"datum": -4.486, "type": "quantitative", "scale": {"domain": [-5, 5], "nice": false, "zero": false}, "axis": null},
        "x2": {"datum": -3.72},
        "y": {"datum": 0.412, "type": "quantitative", "scale": {"domain": [0, 1.4], "nice": false, "zero": false}, "axis": null},
        "y2": {"datum": 0.323}
      }
    },
    {
      "mark": {"type": "text", "text": "DSSZ", "font": "Liberation Sans", "fontSize": 13.5, "align": "left", "baseline": "alphabetic", "color": "black"},
      "encoding": {
        "x": {"datum": -3.6, "type": "quantitative", "scale": {"domain": [-5, 5], "nice": false, "zero": false}, "axis": null},
        "y": {"datum": 0.341, "type": "quantitative", "scale": {"domain": [0, 1.4], "nice": false, "zero": false}, "axis": null}
      }
    },
    {
      "mark": {"type": "rect", "stroke": "#0000ff", "strokeWidth": 1, "fill": {"gradient": "linear", "x1": 0, "y1": 0, "x2": 0.817, "y2": 1.132, "stops": [
        {"offset": 0, "color": "#0000ff"}, {"offset": 0.037, "color": "#0000ff"}, {"offset": 0.037, "color": "rgba(0,0,255,0)"}, {"offset": 0.1667, "color": "rgba(0,0,255,0)"},
        {"offset": 0.1667, "color": "#0000ff"}, {"offset": 0.2037, "color": "#0000ff"}, {"offset": 0.2037, "color": "rgba(0,0,255,0)"}, {"offset": 0.3333, "color": "rgba(0,0,255,0)"},
        {"offset": 0.3333, "color": "#0000ff"}, {"offset": 0.3703, "color": "#0000ff"}, {"offset": 0.3703, "color": "rgba(0,0,255,0)"}, {"offset": 0.5, "color": "rgba(0,0,255,0)"},
        {"offset": 0.5, "color": "#0000ff"}, {"offset": 0.537, "color": "#0000ff"}, {"offset": 0.537, "color": "rgba(0,0,255,0)"}, {"offset": 0.6667, "color": "rgba(0,0,255,0)"},
        {"offset": 0.6667, "color": "#0000ff"}, {"offset": 0.7037, "color": "#0000ff"}, {"offset": 0.7037, "color": "rgba(0,0,255,0)"}, {"offset": 0.8333, "color": "rgba(0,0,255,0)"},
        {"offset": 0.8333, "color": "#0000ff"}, {"offset": 0.8703, "color": "#0000ff"}, {"offset": 0.8703, "color": "rgba(0,0,255,0)"}, {"offset": 1, "color": "rgba(0,0,255,0)"}
      ]}},
      "encoding": {
        "x": {"datum": -4.486, "type": "quantitative", "scale": {"domain": [-5, 5], "nice": false, "zero": false}, "axis": null},
        "x2": {"datum": -3.72},
        "y": {"datum": 0.284, "type": "quantitative", "scale": {"domain": [0, 1.4], "nice": false, "zero": false}, "axis": null},
        "y2": {"datum": 0.195}
      }
    },
    {
      "mark": {"type": "text", "text": "EPS09", "font": "Liberation Sans", "fontSize": 13.5, "align": "left", "baseline": "alphabetic", "color": "black"},
      "encoding": {
        "x": {"datum": -3.6, "type": "quantitative", "scale": {"domain": [-5, 5], "nice": false, "zero": false}, "axis": null},
        "y": {"datum": 0.214, "type": "quantitative", "scale": {"domain": [0, 1.4], "nice": false, "zero": false}, "axis": null}
      }
    },
    {
      "mark": {"type": "rect", "stroke": "#ff0000", "strokeWidth": 1, "fill": {"gradient": "linear", "x1": 0, "y1": 0, "x2": 1.191, "y2": 0.3466, "stops": [
        {"offset": 0, "color": "#ff0000"}, {"offset": 0.04, "color": "#ff0000"}, {"offset": 0.04, "color": "rgba(255,0,0,0)"}, {"offset": 0.1429, "color": "rgba(255,0,0,0)"},
        {"offset": 0.1429, "color": "#ff0000"}, {"offset": 0.1829, "color": "#ff0000"}, {"offset": 0.1829, "color": "rgba(255,0,0,0)"}, {"offset": 0.2857, "color": "rgba(255,0,0,0)"},
        {"offset": 0.2857, "color": "#ff0000"}, {"offset": 0.3257, "color": "#ff0000"}, {"offset": 0.3257, "color": "rgba(255,0,0,0)"}, {"offset": 0.4286, "color": "rgba(255,0,0,0)"},
        {"offset": 0.4286, "color": "#ff0000"}, {"offset": 0.4686, "color": "#ff0000"}, {"offset": 0.4686, "color": "rgba(255,0,0,0)"}, {"offset": 0.5714, "color": "rgba(255,0,0,0)"},
        {"offset": 0.5714, "color": "#ff0000"}, {"offset": 0.6114, "color": "#ff0000"}, {"offset": 0.6114, "color": "rgba(255,0,0,0)"}, {"offset": 0.7143, "color": "rgba(255,0,0,0)"},
        {"offset": 0.7143, "color": "#ff0000"}, {"offset": 0.7543, "color": "#ff0000"}, {"offset": 0.7543, "color": "rgba(255,0,0,0)"}, {"offset": 0.8571, "color": "rgba(255,0,0,0)"},
        {"offset": 0.8571, "color": "#ff0000"}, {"offset": 0.8971, "color": "#ff0000"}, {"offset": 0.8971, "color": "rgba(255,0,0,0)"}, {"offset": 1, "color": "rgba(255,0,0,0)"}
      ]}},
      "encoding": {
        "x": {"datum": -4.486, "type": "quantitative", "scale": {"domain": [-5, 5], "nice": false, "zero": false}, "axis": null},
        "x2": {"datum": -3.72},
        "y": {"datum": 0.154, "type": "quantitative", "scale": {"domain": [0, 1.4], "nice": false, "zero": false}, "axis": null},
        "y2": {"datum": 0.066}
      }
    },
    {
      "mark": {"type": "text", "text": "nCTEQ15", "font": "Liberation Sans", "fontSize": 13.5, "align": "left", "baseline": "alphabetic", "color": "black"},
      "encoding": {
        "x": {"datum": -3.6, "type": "quantitative", "scale": {"domain": [-5, 5], "nice": false, "zero": false}, "axis": null},
        "y": {"datum": 0.081, "type": "quantitative", "scale": {"domain": [0, 1.4], "nice": false, "zero": false}, "axis": null}
      }
    }
  ]
}
